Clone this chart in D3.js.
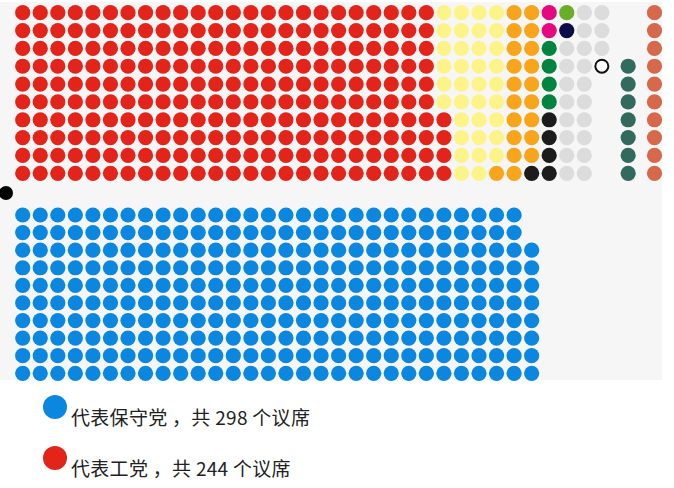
<!DOCTYPE html>
<html lang="zh">
<head>
  <meta charset="UTF-8">
  <title>下议院议席分布</title>
  <script src="https://d3js.org/d3.v7.min.js"></script>
  <style>
    body { margin: 0; background: #fff; }
    svg { display: block; }
    .legend-text {
      font-family: "Noto Sans CJK SC", "Noto Sans", sans-serif;
      font-size: 19px;
      letter-spacing: 0.3px;
      fill: #222;
    }
  </style>
</head>
<body>
<svg width="674" height="488"></svg>
<script>
  // party codes and colours
  const partyCodes  = ["L", "S", "D", "M", "G", "N", "P", "C", "I", "V", "F", "U", "B"];
  const partyColors = ["#e3241b", "#fdf489", "#f8a51c", "#e5097f", "#6aae28", "#0c0c48",
                       "#00843f", "#1c1c1c", "#dcdcdc", "#ffffff", "#326b5e", "#d6694b", "#0b87df"];

  // opposition benches, one string per column, top row first ("." = empty)
  const oppositionColumns = [
    "LLLLLLLLLL", "LLLLLLLLLL", "LLLLLLLLLL", "LLLLLLLLLL", "LLLLLLLLLL", "LLLLLLLLLL",
    "LLLLLLLLLL", "LLLLLLLLLL", "LLLLLLLLLL", "LLLLLLLLLL", "LLLLLLLLLL", "LLLLLLLLLL",
    "LLLLLLLLLL", "LLLLLLLLLL", "LLLLLLLLLL", "LLLLLLLLLL", "LLLLLLLLLL", "LLLLLLLLLL",
    "LLLLLLLLLL", "LLLLLLLLLL", "LLLLLLLLLL", "LLLLLLLLLL", "LLLLLLLLLL", "LLLLLLLLLL",
    "SSSSSSLLLL", "SSSSSSSSSS", "SSSSSSSSSS", "SSSSSSSSSD", "DDDDDDDDDD", "DDDDDDDDDC",
    "MMPPPPCCCC", "GNIIIIIIII", "IIIIIIIIII", "IIIV......"
  ];
  // Northern Ireland columns set apart on the right
  const sideColumns = ["...FFFFFFF", "UUUUUUUUUU"];

  // government benches
  const governmentSeats = 298;

  // legend
  const legendColors = ["#0b87df", "#e3241b"];
  const legendLabels = ["代表保守党 ，共 298 个议席", "代表工党 ，共 244 个议席"];

  const svg = d3.select("svg");
  const color = d3.scaleOrdinal().domain(partyCodes).range(partyColors);

  const x = d3.scaleLinear().domain([0, 36]).range([22.7, 654.5]);
  const yTop = d3.scaleLinear().domain([0, 9]).range([12.7, 173.3]);
  const yBottom = d3.scaleLinear().domain([0, 9]).range([215, 373.3]);
  const r = 7.6;

  // chamber background
  svg.append("rect")
      .attr("x", 0).attr("y", 2)
      .attr("width", 662).attr("height", 378)
      .attr("fill", "#f6f6f6");

  // build opposition seats
  const topSeats = [];
  oppositionColumns.forEach((col, c) => {
    col.split("").forEach((code, row) => {
      if (code !== ".") topSeats.push({ col: c, row, code });
    });
  });
  sideColumns.forEach((col, j) => {
    const c = oppositionColumns.length - 1 + 1.5 * (j + 1);
    col.split("").forEach((code, row) => {
      if (code !== ".") topSeats.push({ col: c, row, code });
    });
  });

  svg.append("g").selectAll("circle")
      .data(topSeats)
      .join("circle")
      .attr("cx", d => x(d.col))
      .attr("cy", d => yTop(d.row))
      .attr("r", d => d.code === "V" ? 6.5 : r)
      .attr("fill", d => color(d.code))
      .attr("stroke", d => d.code === "V" ? "#111" : "none")
      .attr("stroke-width", 2);

  // government seats fill each column from the bottom
  const bottomSeats = d3.range(governmentSeats).map(i => ({
    col: Math.floor(i / 10),
    row: 9 - (i % 10)
  }));

  svg.append("g").selectAll("circle")
      .data(bottomSeats)
      .join("circle")
      .attr("cx", d => x(d.col))
      .attr("cy", d => yBottom(d.row))
      .attr("r", r)
      .attr("fill", color("B"));

  // speaker
  svg.append("circle")
      .attr("cx", 6).attr("cy", 193)
      .attr("r", 7)
      .attr("fill", "#000");

  // legend
  const legend = svg.append("g").selectAll("g")
      .data(legendLabels)
      .join("g")
      .attr("transform", (d, i) => `translate(55,${407 + i * 51})`);

  legend.append("circle")
      .attr("r", 12)
      .attr("fill", (d, i) => legendColors[i]);

  legend.append("text")
      .attr("class", "legend-text")
      .attr("x", 16)
      .attr("y", 18)
      .text(d => d);
</script>
</body>
</html>
